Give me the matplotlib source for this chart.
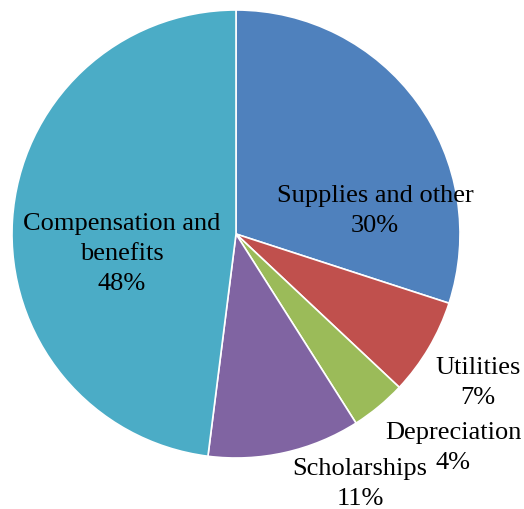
import matplotlib
matplotlib.use("Agg")
import matplotlib.pyplot as plt

categories = ["Supplies and other", "Utilities", "Depreciation", "Scholarships", "Compensation and\nbenefits"]
shares = [30, 7, 4, 11, 48]
colors = ["#4F81BD", "#C0504D", "#9BBB59", "#8064A2", "#4BACC6"]

plt.rcParams["font.family"] = ["Liberation Serif", "DejaVu Serif"]

W, H = 524, 510
fig = plt.figure(figsize=(W / 100, H / 100), dpi=100)
ax = fig.add_axes([0, 0, 1, 1])

cx, cy, r = 236, H - 235, 224
wedges, _ = ax.pie(shares, colors=colors, startangle=90, counterclock=False,
                   center=(cx, cy), radius=r, frame=True,
                   wedgeprops=dict(edgecolor="white", linewidth=1.2))
ax.set_xlim(0, W)
ax.set_ylim(0, H)
ax.set_aspect("equal")
ax.axis("off")

# label anchor points (pixel coordinates from the top-left corner)
label_pos = [(375, 211), (478, 383), (453, 448), (360, 484), (122, 254)]
for name, val, (lx, ly) in zip(categories, shares, label_pos):
    ax.text(lx, H - ly, f"{name}\n{val}%", ha="center", va="center",
            fontsize=19, color="black", linespacing=1.45)

fig.savefig("out.png", dpi=100)
